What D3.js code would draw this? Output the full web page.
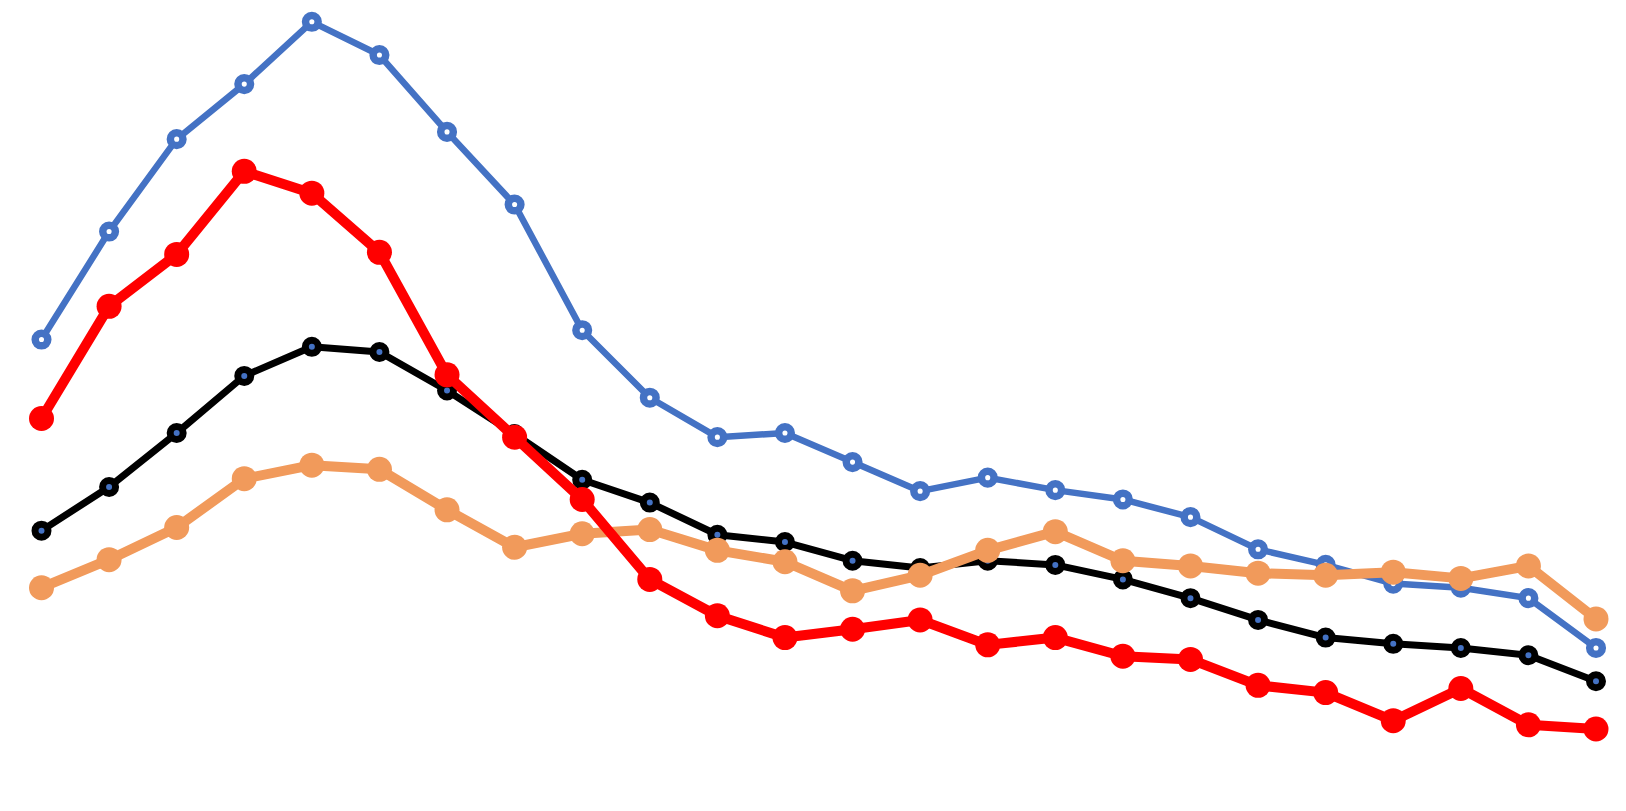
<!DOCTYPE html>
<html>
    <head>
        <script src="https://d3js.org/d3.v7.min.js"></script>
    </head>
    <style>
        body { margin: 0; background: #fff; }
    </style>
    <body>
        <div id="chart"></div>
        <script>
            // 24 periods, four series
            const periods = d3.range(24);
            const blue   = [454,558,647,700,760,728,654,584,463,398,360,364,336,308,321,309,300,283,252,237,219,215,205,157];
            const orange = [215,242,273,320,333,329,290,254,267,271,251,240,212,227,251,269,241,236,229,227,230,224,236,185];
            const black  = [270,312,364,419,447,442,405,363,319,297,266,259,241,234,241,237,223,205,184,167,161,157,150,125];
            const red    = [378,486,536,616,595,538,420,360,300,223,188,167,175,184,160,167,149,146,121,114,87,118,83,79];

            const width = 1626, height = 811;

            const x = d3.scaleLinear().domain([0, 23]).range([41.5, 1596]);
            const y = d3.scaleLinear().domain([0, 781]).range([height, 0]);

            const svg = d3.select("#chart").append("svg")
                .attr("width", width)
                .attr("height", height);

            const line = d3.line()
                .x((d, i) => x(periods[i]))
                .y(d => y(d));

            // drawing order: blue, black, orange, red
            const series = [
                { values: blue,   color: "#4472C4", lw: 6.5, r: 6.3, sw: 7.5, fill: "#fff" },
                { values: black,  color: "#000",    lw: 7,   r: 6.5, sw: 7,   fill: "#4472C4" },
                { values: orange, color: "#F19A5B", lw: 10,  r: 12.5, sw: 0,  fill: "#F19A5B" },
                { values: red,    color: "#FF0000", lw: 10,  r: 12.5, sw: 0,  fill: "#FF0000" }
            ];

            series.forEach(s => {
                const g = svg.append("g");
                g.append("path")
                    .datum(s.values)
                    .attr("fill", "none")
                    .attr("stroke", s.color)
                    .attr("stroke-width", s.lw)
                    .attr("stroke-linejoin", "round")
                    .attr("d", line);
                g.selectAll("circle")
                    .data(s.values)
                    .enter()
                    .append("circle")
                    .attr("cx", (d, i) => x(periods[i]))
                    .attr("cy", d => y(d))
                    .attr("r", s.r)
                    .attr("fill", s.fill)
                    .attr("stroke", s.sw ? s.color : "none")
                    .attr("stroke-width", s.sw);
            });
        </script>
    </body>
</html>
